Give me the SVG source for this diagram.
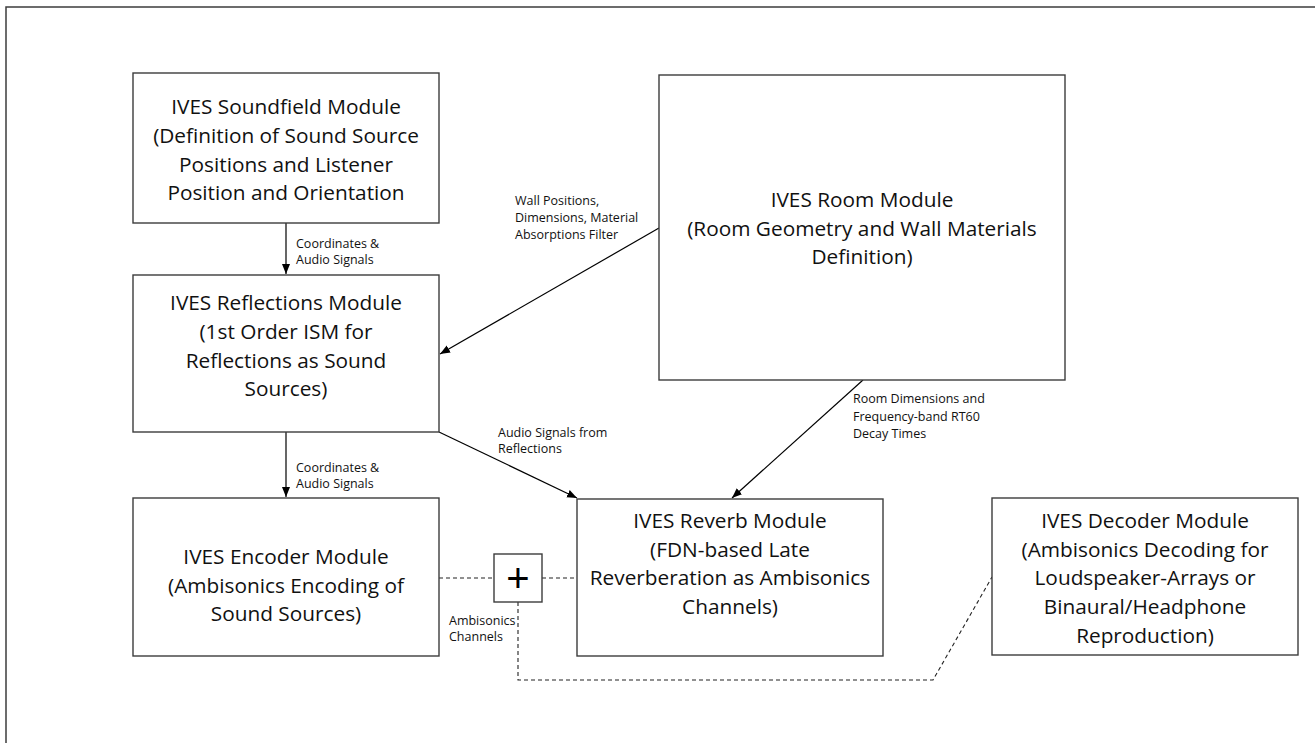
<svg xmlns="http://www.w3.org/2000/svg" width="1315" height="743" viewBox="0 0 1315 743">
<defs>
<style>
.box{fill:#fff;stroke:#3c3c3c;stroke-width:1.4}
.t{font-family:"Open Sans","Liberation Sans",Arial,sans-serif;font-size:20.8px;fill:#111;text-anchor:middle}
.s{font-family:"Open Sans","Liberation Sans",Arial,sans-serif;font-size:12.5px;fill:#111}
.c{stroke:#000;stroke-width:1.2;fill:none}
.d{stroke:#222;stroke-width:1.1;fill:none;stroke-dasharray:4 3}
</style>
<marker id="ah" markerUnits="userSpaceOnUse" markerWidth="10" markerHeight="10" viewBox="0 0 10 10" refX="10" refY="5" orient="auto">
<path d="M0,1 L10,5 L0,9 z" fill="#000"/>
</marker>
</defs>
<rect x="6" y="7" width="1330" height="760" fill="#fff" stroke="#3c3c3c" stroke-width="1.5"/>

<g id="connectors">
<line class="c" x1="286" y1="223" x2="286" y2="274" marker-end="url(#ah)"/>
<line class="c" x1="659" y1="228" x2="440" y2="354" marker-end="url(#ah)"/>
<line class="c" x1="286" y1="432" x2="286" y2="497" marker-end="url(#ah)"/>
<line class="c" x1="439" y1="432" x2="577" y2="498" marker-end="url(#ah)"/>
<line class="c" x1="863" y1="380" x2="732" y2="498" marker-end="url(#ah)"/>
<line class="d" x1="439" y1="578" x2="494" y2="578"/>
<line class="d" x1="542" y1="578" x2="577" y2="578"/>
<polyline class="d" points="518,602 518,680 933,680 992,577"/>
<text class="s" x="296" y="248">Coordinates &amp;</text>
<text class="s" x="296" y="264">Audio Signals</text>
<text class="s" x="296" y="472">Coordinates &amp;</text>
<text class="s" x="296" y="488">Audio Signals</text>
<text class="s" x="515" y="205">Wall Positions,</text>
<text class="s" x="515" y="222">Dimensions, Material</text>
<text class="s" x="515" y="239">Absorptions Filter</text>
<text class="s" x="498" y="437">Audio Signals from</text>
<text class="s" x="498" y="453">Reflections</text>
<text class="s" x="853" y="403">Room Dimensions and</text>
<text class="s" x="853" y="421">Frequency-band RT60</text>
<text class="s" x="853" y="438">Decay Times</text>
<text class="s" x="449" y="625">Ambisonics</text>
<text class="s" x="449" y="641">Channels</text>
</g>

<g id="soundfield">
<rect class="box" x="133" y="73" width="306" height="150"/>
<text class="t" x="286" y="114">IVES Soundfield Module</text>
<text class="t" x="286" y="142.5">(Definition of Sound Source</text>
<text class="t" x="286" y="171.5">Positions and Listener</text>
<text class="t" x="286" y="200">Position and Orientation</text>
</g>

<g id="reflections">
<rect class="box" x="133" y="275" width="306" height="157"/>
<text class="t" x="286" y="310">IVES Reflections Module</text>
<text class="t" x="286" y="338.5">(1st Order ISM for</text>
<text class="t" x="286" y="367.5">Reflections as Sound</text>
<text class="t" x="286" y="396">Sources)</text>
</g>

<g id="encoder">
<rect class="box" x="133" y="498" width="306" height="158"/>
<text class="t" x="286" y="564">IVES Encoder Module</text>
<text class="t" x="286" y="592.5">(Ambisonics Encoding of</text>
<text class="t" x="286" y="620.5">Sound Sources)</text>
</g>

<g id="room">
<rect class="box" x="659" y="75" width="406" height="305"/>
<text class="t" x="862" y="206.5">IVES Room Module</text>
<text class="t" x="862" y="235.5">(Room Geometry and Wall Materials</text>
<text class="t" x="862" y="264">Definition)</text>
</g>

<g id="reverb">
<rect class="box" x="577" y="499" width="306" height="157"/>
<text class="t" x="730" y="528">IVES Reverb Module</text>
<text class="t" x="730" y="556.5">(FDN-based Late</text>
<text class="t" x="730" y="585">Reverberation as Ambisonics</text>
<text class="t" x="730" y="614">Channels)</text>
</g>

<g id="decoder">
<rect class="box" x="992" y="498" width="306" height="157"/>
<text class="t" x="1145" y="528">IVES Decoder Module</text>
<text class="t" x="1145" y="556.5">(Ambisonics Decoding for</text>
<text class="t" x="1145" y="585">Loudspeaker-Arrays or</text>
<text class="t" x="1145" y="614">Binaural/Headphone</text>
<text class="t" x="1145" y="642.5">Reproduction)</text>
</g>

<g id="sum">
<rect class="box" x="494" y="554" width="48" height="48"/>
<text x="518" y="592" style="font-family:'Liberation Sans',Arial,sans-serif;font-size:40px;fill:#000;text-anchor:middle">+</text>
</g>
</svg>
